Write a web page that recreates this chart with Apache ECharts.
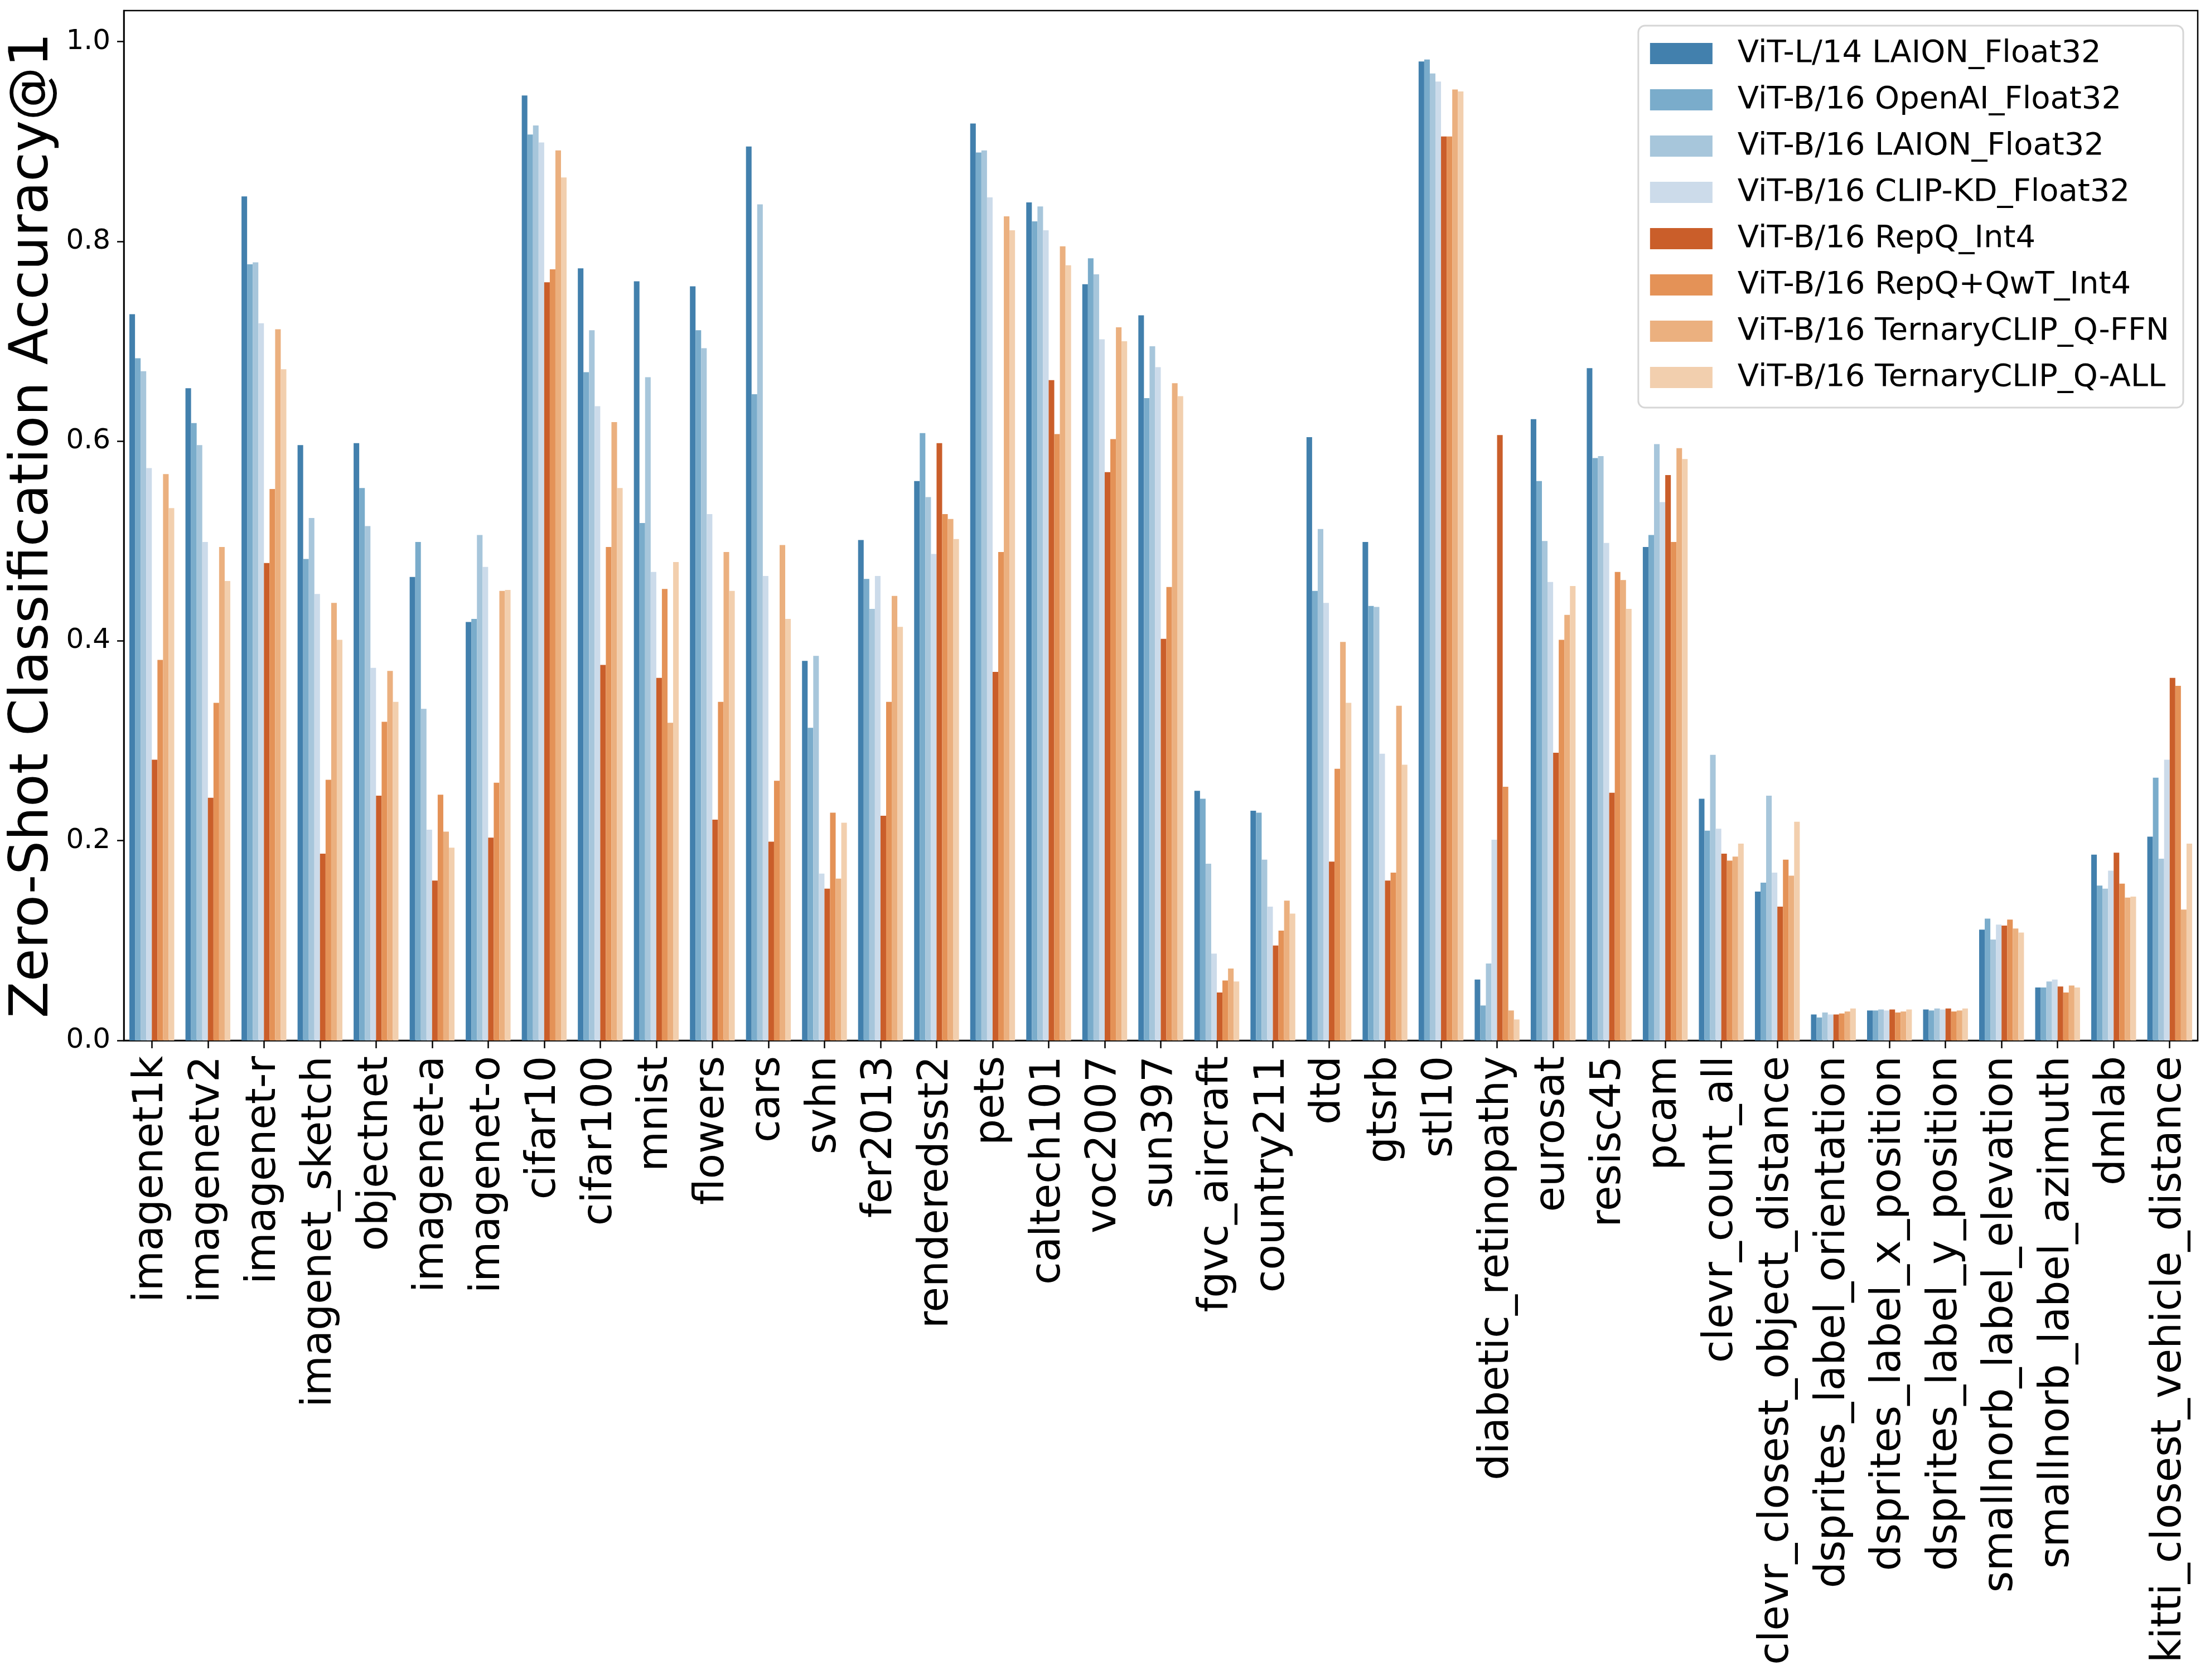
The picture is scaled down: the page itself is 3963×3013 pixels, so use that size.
<!DOCTYPE html>
<html>
<head>
<meta charset="utf-8">
<script src="https://cdn.jsdelivr.net/npm/echarts@6/dist/echarts.min.js"></script>
<style>
html,body{margin:0;padding:0;background:#fff;}
#chart{width:3963px;height:3013px;}
</style>
</head>
<body>
<div id="chart"></div>
<script>
const categories = ["imagenet1k","imagenetv2","imagenet-r","imagenet_sketch","objectnet","imagenet-a","imagenet-o","cifar10","cifar100","mnist","flowers","cars","svhn","fer2013","renderedsst2","pets","caltech101","voc2007","sun397","fgvc_aircraft","country211","dtd","gtsrb","stl10","diabetic_retinopathy","eurosat","resisc45","pcam","clevr_count_all","clevr_closest_object_distance","dsprites_label_orientation","dsprites_label_x_position","dsprites_label_y_position","smallnorb_label_elevation","smallnorb_label_azimuth","dmlab","kitti_closest_vehicle_distance"];

const seriesNames = ["ViT-L/14 LAION_Float32","ViT-B/16 OpenAI_Float32","ViT-B/16 LAION_Float32","ViT-B/16 CLIP-KD_Float32","ViT-B/16 RepQ_Int4","ViT-B/16 RepQ+QwT_Int4","ViT-B/16 TernaryCLIP_Q-FFN","ViT-B/16 TernaryCLIP_Q-ALL"];

const vitL14_laion   = [0.727,0.653,0.845,0.596,0.598,0.464,0.419,0.946,0.773,0.760,0.755,0.895,0.380,0.501,0.560,0.918,0.839,0.757,0.726,0.250,0.230,0.604,0.499,0.980,0.061,0.622,0.673,0.494,0.242,0.149,0.026,0.030,0.031,0.111,0.053,0.186,0.204];
const vitB16_openai  = [0.683,0.618,0.777,0.482,0.553,0.499,0.422,0.907,0.669,0.518,0.711,0.647,0.313,0.462,0.608,0.889,0.820,0.783,0.643,0.242,0.228,0.450,0.435,0.982,0.035,0.560,0.583,0.506,0.210,0.158,0.023,0.030,0.030,0.122,0.053,0.155,0.263];
const vitB16_laion   = [0.670,0.596,0.779,0.523,0.515,0.332,0.506,0.916,0.711,0.664,0.693,0.837,0.385,0.432,0.544,0.891,0.835,0.767,0.695,0.177,0.181,0.512,0.434,0.968,0.077,0.500,0.585,0.597,0.286,0.245,0.028,0.031,0.032,0.101,0.059,0.152,0.182];
const vitB16_clipkd  = [0.573,0.499,0.718,0.447,0.373,0.211,0.474,0.899,0.635,0.469,0.527,0.465,0.167,0.465,0.487,0.844,0.811,0.702,0.674,0.087,0.134,0.438,0.287,0.960,0.201,0.459,0.498,0.539,0.212,0.168,0.026,0.030,0.031,0.116,0.061,0.170,0.281];
const vitB16_repq    = [0.281,0.243,0.478,0.187,0.245,0.160,0.203,0.759,0.376,0.363,0.221,0.199,0.152,0.225,0.598,0.369,0.661,0.569,0.402,0.048,0.095,0.179,0.160,0.905,0.606,0.288,0.248,0.566,0.187,0.134,0.026,0.031,0.032,0.115,0.054,0.188,0.363];
const vitB16_repqqwt = [0.381,0.338,0.552,0.261,0.319,0.246,0.258,0.772,0.494,0.452,0.339,0.260,0.228,0.339,0.527,0.489,0.607,0.602,0.454,0.060,0.110,0.272,0.168,0.905,0.254,0.401,0.469,0.499,0.180,0.181,0.027,0.028,0.029,0.121,0.048,0.157,0.355];
const vitB16_tcffn   = [0.567,0.494,0.712,0.438,0.370,0.209,0.450,0.891,0.619,0.318,0.489,0.496,0.162,0.445,0.522,0.825,0.795,0.714,0.658,0.072,0.140,0.399,0.335,0.952,0.030,0.426,0.461,0.593,0.184,0.165,0.029,0.029,0.030,0.112,0.055,0.143,0.131];
const vitB16_tcall   = [0.533,0.460,0.672,0.401,0.339,0.193,0.451,0.864,0.553,0.479,0.450,0.422,0.218,0.414,0.502,0.811,0.776,0.700,0.645,0.059,0.127,0.338,0.276,0.950,0.021,0.455,0.432,0.582,0.197,0.219,0.032,0.031,0.032,0.108,0.053,0.144,0.197];

const yTicks = [0, 0.2, 0.4, 0.6, 0.8, 1.0];

const allValues = [vitL14_laion, vitB16_openai, vitB16_laion, vitB16_clipkd, vitB16_repq, vitB16_repqqwt, vitB16_tcffn, vitB16_tcall];
const colors = ['#4280ad','#7aaccb','#a7c6db','#ccdbea','#ca5e2a','#e49257','#ebb07f','#f2cfae'];

const FONT = 'DejaVu Sans';
const chart = echarts.init(document.getElementById('chart'), null, {renderer: 'canvas'});

const series = seriesNames.map((name, i) => ({
  name: name,
  type: 'bar',
  data: allValues[i],
  barGap: '0%',
  barCategoryGap: '20%',
  itemStyle: {color: colors[i]},
  emphasis: {disabled: true}
}));

chart.setOption({
  animation: false,
  backgroundColor: '#ffffff',
  grid: {
    left: 222, right: 22, top: 19, bottom: 1147,
    show: true, borderColor: '#000', borderWidth: 2.5, backgroundColor: 'transparent'
  },
  legend: {
    orient: 'vertical',
    right: 48, top: 46,
    data: seriesNames,
    itemWidth: 112, itemHeight: 38, itemGap: 27,
    icon: 'rect',
    backgroundColor: '#ffffff',
    borderColor: '#d6d6d6', borderWidth: 3, borderRadius: 12,
    padding: [22, 25, 26, 21],
    textStyle: {fontFamily: FONT, fontSize: 56, color: '#000', lineHeight: 54, padding: [0, 0, 0, 40]}
  },
  xAxis: {
    type: 'category',
    data: categories,
    axisLine: {show: true, lineStyle: {color: '#000', width: 2.5}},
    axisTick: {show: true, alignWithLabel: true, length: 14, lineStyle: {color: '#000', width: 2.5}},
    axisLabel: {interval: 0, rotate: 90, fontFamily: FONT, fontSize: 74, color: '#000', margin: 28},
    splitLine: {show: false}
  },
  yAxis: {
    type: 'value',
    min: 0, max: 1.031,
    name: 'Zero-Shot Classification Accuracy@1',
    nameLocation: 'middle',
    nameGap: 90,
    nameRotate: 90,
    nameTextStyle: {fontFamily: FONT, fontSize: 96, color: '#000'},
    axisLine: {show: true, lineStyle: {color: '#000', width: 2.5}},
    axisTick: {show: true, length: 12, lineStyle: {color: '#000', width: 2.5}, customValues: yTicks},
    axisLabel: {
      fontFamily: FONT, fontSize: 50, color: '#000', margin: 24,
      customValues: yTicks,
      formatter: v => (Math.abs(v * 5 - Math.round(v * 5)) < 1e-6 ? v.toFixed(1) : '')
    },
    splitLine: {show: false}
  },
  series: series
});
</script>
</body>
</html>
